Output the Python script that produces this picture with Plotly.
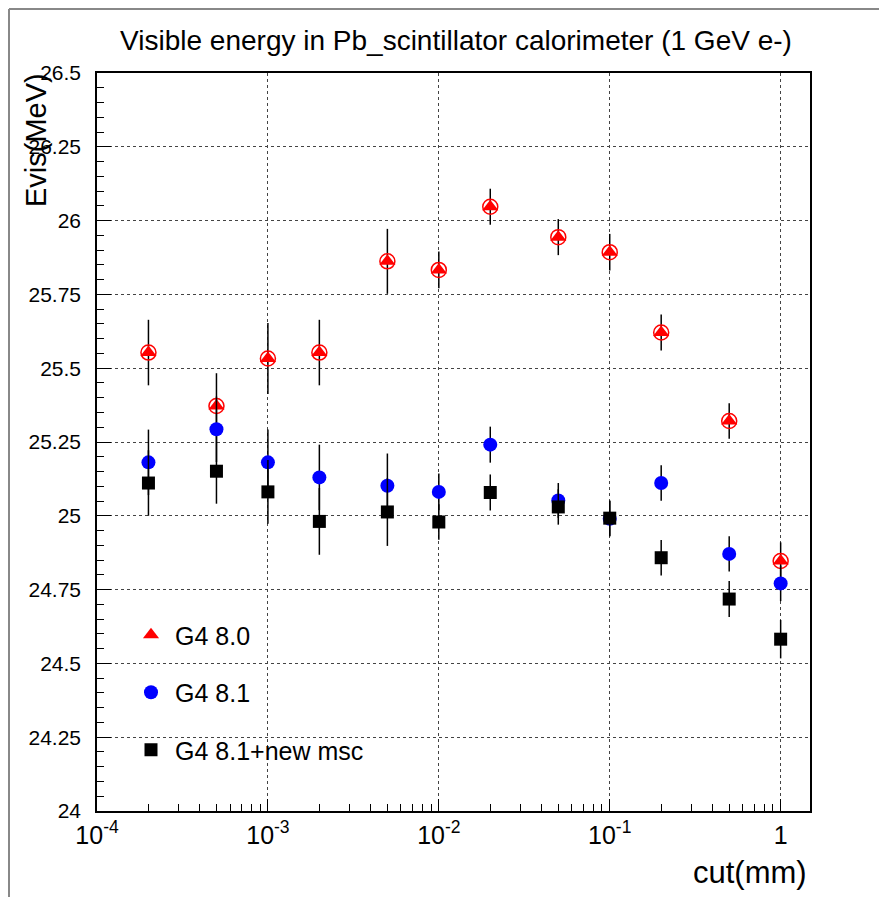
import math
import plotly.graph_objects as go

# ---------------- data ----------------
cut_mm = [0.0002, 0.0005, 0.001, 0.002, 0.005, 0.01, 0.02, 0.05, 0.1, 0.2, 0.5, 1.0]

g4_80 = [25.553, 25.372, 25.533, 25.553, 25.862, 25.833, 26.047, 25.944, 25.893, 25.621, 25.321, 24.847]
g4_80_err = [0.111, 0.111, 0.12, 0.111, 0.11, 0.062, 0.061, 0.061, 0.062, 0.061, 0.06, 0.063]

g4_81 = [25.181, 25.293, 25.181, 25.130, 25.102, 25.081, 25.241, 25.052, 24.990, 25.111, 24.871, 24.771]
g4_81_err = [0.111, 0.111, 0.111, 0.111, 0.109, 0.062, 0.061, 0.059, 0.06, 0.06, 0.06, 0.06]

g4_81_msc = [25.111, 25.151, 25.081, 24.981, 25.013, 24.979, 25.079, 25.030, 24.992, 24.858, 24.718, 24.582]
g4_81_msc_err = [0.111, 0.11, 0.108, 0.113, 0.115, 0.06, 0.061, 0.06, 0.06, 0.06, 0.061, 0.065]

series_names = ["G4 8.0", "G4 8.1", "G4 8.1+new msc"]

y_tickvals = [24, 24.25, 24.5, 24.75, 25, 25.25, 25.5, 25.75, 26, 26.25, 26.5]
y_ticktext = ["24", "24.25", "24.5", "24.75", "25", "25.25", "25.5", "25.75", "26", "26.25", "26.5"]
x_tickvals = [1e-4, 1e-3, 1e-2, 1e-1, 1]
x_ticktext = ["10<sup>-4</sup>", "10<sup>-3</sup>", "10<sup>-2</sup>", "10<sup>-1</sup>", "1"]

title_text = "Visible energy in Pb_scintillator calorimeter (1 GeV e-)"
x_title = "cut(mm)"
y_title = "Evis(MeV)"

# ---------------- layout geometry (page pixels, page has 8px body margin) ----------------
OFF = 8
PAGE_W, PAGE_H = 887, 897
W, H = PAGE_W - OFF, PAGE_H - OFF
L, R, T, B = 97 - OFF, 810 - OFF, 73 - OFF, 811 - OFF   # plot area in figure pixels
FONT = "Liberation Sans, Arial, sans-serif"

def px_x(page_x):
    return (page_x - OFF - L) / (R - L)

def px_y(page_y):
    return (B - (page_y - OFF)) / (B - T)

err_style = dict(type="data", visible=True, color="black", thickness=1.5, width=0)

fig = go.Figure()

fig.add_trace(go.Scatter(
    x=cut_mm, y=g4_80, mode="markers", name=series_names[0], legendgroup="a",
    error_y=dict(array=g4_80_err, **err_style),
    marker=dict(symbol="triangle-up", size=14, color="red", line=dict(width=0)),
))
fig.add_trace(go.Scatter(
    x=cut_mm, y=g4_80, mode="markers", showlegend=False, hoverinfo="skip",
    marker=dict(symbol="circle-open", size=15, color="red", line=dict(width=1.5, color="red")),
))
fig.add_trace(go.Scatter(
    x=cut_mm, y=g4_81, mode="markers", name=series_names[1], legendgroup="b",
    error_y=dict(array=g4_81_err, **err_style),
    marker=dict(symbol="circle", size=14, color="blue", line=dict(width=0)),
))
fig.add_trace(go.Scatter(
    x=cut_mm, y=g4_81_msc, mode="markers", name=series_names[2], legendgroup="c",
    error_y=dict(array=g4_81_msc_err, **err_style),
    marker=dict(symbol="square", size=13, color="black", line=dict(width=0)),
))

axis_common = dict(
    showline=True, linecolor="black", linewidth=1.5, mirror=True,
    ticks="inside", tickcolor="black", tickwidth=1,
    showgrid=True, gridcolor="#444", griddash="dot", gridwidth=1,
    zeroline=False,
)

fig.update_xaxes(
    type="log", range=[-4, math.log10(1.485)],
    tickvals=x_tickvals, ticktext=x_ticktext, ticklen=12,
    minor=dict(ticks="inside", ticklen=7, dtick="D1", showgrid=False, tickcolor="black"),
    ticklabelstandoff=1,
    tickfont=dict(family=FONT, size=25, color="black"),
    **axis_common,
)
fig.update_yaxes(
    range=[24, 26.5], tickvals=y_tickvals, ticktext=y_ticktext, ticklen=14,
    minor=dict(ticks="inside", ticklen=7, dtick=0.05, showgrid=False, tickcolor="black"),
    ticklabelstandoff=10,
    tickfont=dict(family=FONT, size=21, color="black"),
    **axis_common,
)

fig.update_layout(
    width=W, height=H,
    margin=dict(l=L, r=W - R, t=T, b=H - B, pad=0),
    paper_bgcolor="white", plot_bgcolor="white",
    showlegend=True,
    title=dict(text=title_text, x=(456 - OFF) / W, xref="container", xanchor="center",
               y=1 - (40 - OFF) / H, yref="container", yanchor="middle",
               font=dict(family=FONT, size=28, color="black")),
    legend=dict(x=px_x(127), y=px_y(612), xanchor="left", yanchor="top",
                bgcolor="rgba(0,0,0,0)", borderwidth=0,
                font=dict(family=FONT, size=25, color="black"),
                traceorder="grouped", tracegroupgap=22, itemwidth=38),
    annotations=[
        dict(text=x_title, xref="paper", yref="paper", x=px_x(809), y=px_y(872),
             xanchor="right", yanchor="middle", showarrow=False,
             font=dict(family=FONT, size=31, color="black")),
        dict(text=y_title, xref="paper", yref="paper", x=px_x(36), y=px_y(140),
             xanchor="center", yanchor="middle", textangle=-90, showarrow=False,
             font=dict(family=FONT, size=29, color="black")),
    ],
    shapes=[
        dict(type="line", xref="paper", yref="paper", x0=px_x(9), x1=px_x(9),
             y0=px_y(OFF + 1), y1=px_y(PAGE_H + 5), line=dict(color="#888", width=2)),
        dict(type="line", xref="paper", yref="paper", x0=px_x(9), x1=px_x(PAGE_W + 5),
             y0=px_y(OFF + 1), y1=px_y(OFF + 1), line=dict(color="#888", width=2)),
    ],
)

fig.write_html("out.html")
